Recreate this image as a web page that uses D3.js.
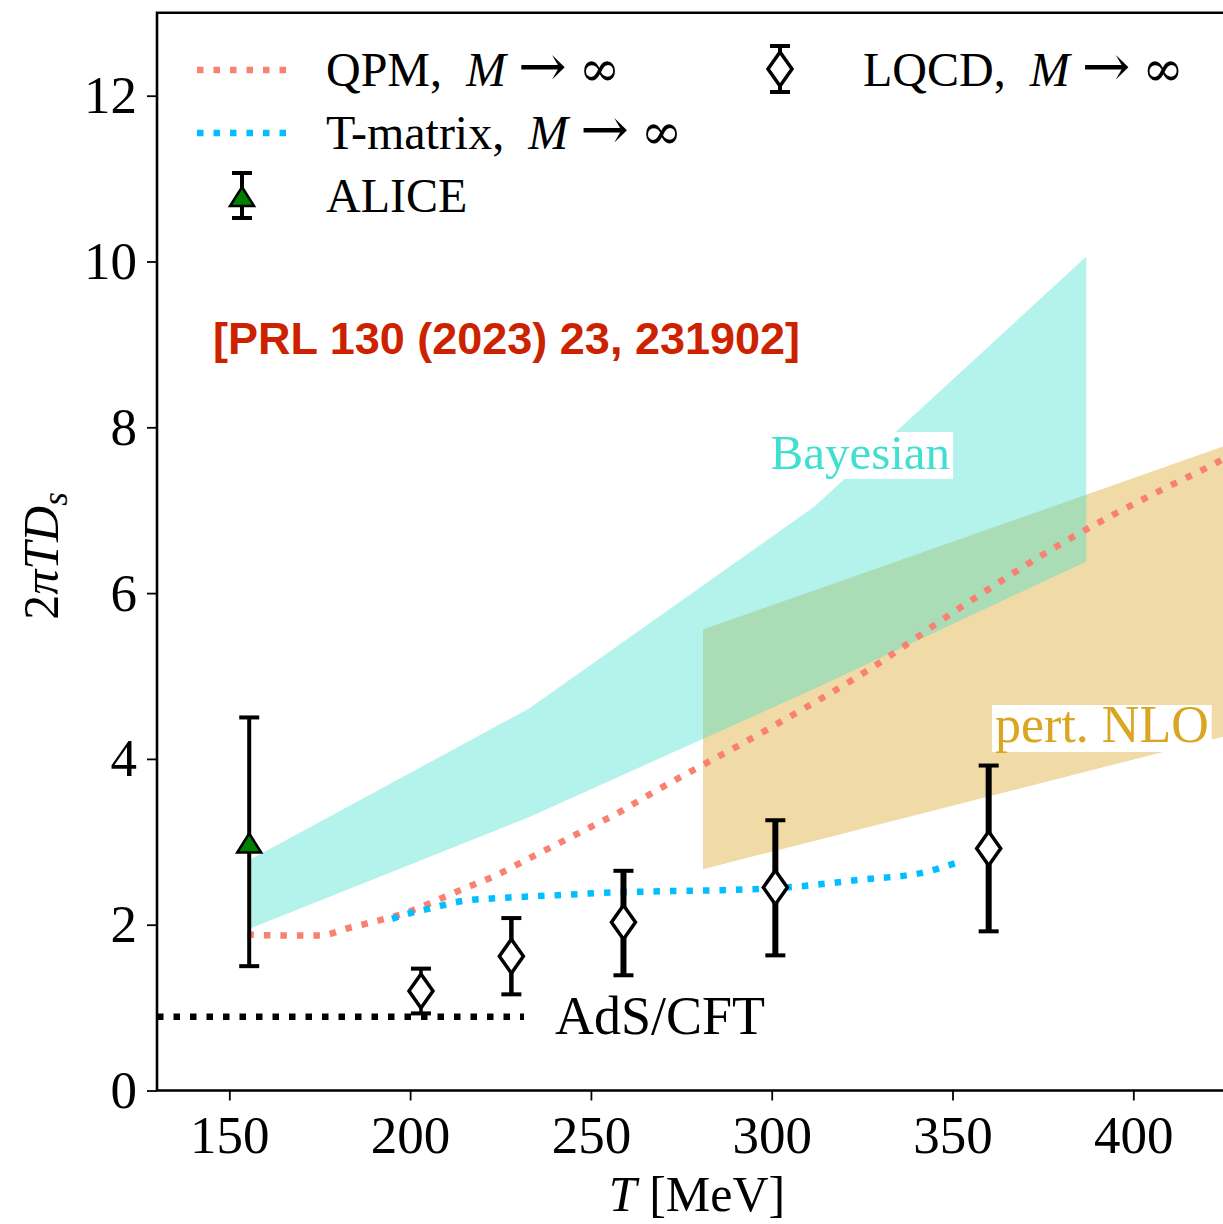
<!DOCTYPE html>
<html lang="en">
<head>
<meta charset="UTF-8">
<title>2piTDs vs T</title>
<script src="https://cdn.jsdelivr.net/npm/d3@7"></script>
<style>
  body { margin: 0; background: #fff; }
  text { font-family: "Liberation Serif", "DejaVu Serif", serif; fill: #000; }
</style>
</head>
<body>
<script>
// values
const xTicks = [150, 200, 250, 300, 350, 400];
const yTicks = [0, 2, 4, 6, 8, 10, 12];

// QPM, M -> inf
const qpmT = [155, 165, 175, 183, 193, 198, 206, 214, 224, 232, 241, 250, 258, 265, 299, 327, 352, 381, 408, 422, 425];
const qpmD = [1.88, 1.87, 1.87, 1.96, 2.07, 2.13, 2.27, 2.42, 2.60, 2.78, 2.98, 3.18, 3.36, 3.54, 4.36, 5.08, 5.82, 6.62, 7.25, 7.55, 7.62];

// T-matrix, M -> inf
const tmT = [195, 200, 205, 215, 224, 233, 243, 256, 266, 301, 324, 343, 352];
const tmD = [2.07, 2.14, 2.19, 2.29, 2.32, 2.34, 2.36, 2.39, 2.40, 2.44, 2.54, 2.64, 2.76];

// Bayesian band
const bayT = [155.5, 233, 312, 387];
const bayLo = [1.95, 3.30, 4.85, 6.38];
const bayHi = [2.78, 4.61, 7.05, 10.06];

// pert. NLO band
const nloT = [281, 425];
const nloLo = [2.67, 4.27];
const nloHi = [5.56, 7.77];

// AdS/CFT
const adsT = [130, 231.5];
const adsD = 0.89;

// ALICE
const aliceT = [155.5];
const aliceD = [2.98];
const aliceLo = [1.50];
const aliceHi = [4.50];

// LQCD, M -> inf
const lqcdT = [203, 228, 259, 301, 360];
const lqcdD = [1.20, 1.62, 2.03, 2.45, 2.92];
const lqcdLo = [0.93, 1.16, 1.39, 1.63, 1.92];
const lqcdHi = [1.47, 2.08, 2.65, 3.26, 3.92];
const lqcdBarW = [3.5, 4.5, 6, 6, 6];

const W = 1223, H = 1224;
const x = d3.scaleLinear().domain([130, 430]).range([157, 1241.8]);
const y = d3.scaleLinear().domain([0, 13]).range([1090.5, 12.8]);

const svg = d3.select('body').append('svg').attr('width', W).attr('height', H);

svg.append('clipPath').attr('id', 'plot')
  .append('rect').attr('x', x(130)).attr('y', y(13))
  .attr('width', x(430) - x(130)).attr('height', y(0) - y(13));

const plot = svg.append('g').attr('clip-path', 'url(#plot)');

const area = d3.area().x(d => x(d[0])).y0(d => y(d[1])).y1(d => y(d[2]));
const line = d3.line().x(d => x(d[0])).y(d => y(d[1]));

// bands (NLO first, Bayesian on top)
plot.append('path').attr('d', area(d3.zip(nloT, nloLo, nloHi)))
  .attr('fill', '#daa520').attr('fill-opacity', 0.4);
plot.append('path').attr('d', area(d3.zip(bayT, bayLo, bayHi)))
  .attr('fill', '#40e0d0').attr('fill-opacity', 0.4);

// AdS/CFT
plot.append('path').attr('d', line(adsT.map(t => [t, adsD])))
  .attr('fill', 'none').attr('stroke', '#000').attr('stroke-width', 6.5).attr('stroke-dasharray', '6.5 10');

// model curves
const smooth = d3.line().curve(d3.curveMonotoneX).x(d => x(d[0])).y(d => y(d[1]));
plot.append('path').attr('d', smooth(d3.zip(qpmT, qpmD)))
  .attr('fill', 'none').attr('stroke', '#fa8072').attr('stroke-width', 6.5).attr('stroke-dasharray', '6.5 10');
plot.append('path').attr('d', smooth(d3.zip(tmT, tmD)))
  .attr('fill', 'none').attr('stroke', '#00bfff').attr('stroke-width', 6.5).attr('stroke-dasharray', '6.5 10');

// text boxes on the bands
function boxLabel(cx, baseline, txt, color, size) {
  const g = plot.append('g');
  const t = g.append('text').attr('x', cx).attr('y', baseline).attr('text-anchor', 'middle')
    .attr('font-size', size).style('fill', color).text(txt);
  const b = t.node().getBBox();
  g.insert('rect', 'text').attr('x', b.x - 3).attr('y', baseline - 37)
    .attr('width', b.width + 6).attr('height', 47).attr('fill', '#fff');
}
boxLabel(x(324.5), 469, 'Bayesian', '#40e0d0', 49);
boxLabel(x(391.3), 742, 'pert. NLO', '#daa520', 52);

svg.append('text').attr('x', 555).attr('y', 1034).attr('font-size', 54).text('AdS/CFT');

svg.append('text').attr('x', 213).attr('y', 354).attr('font-size', 45)
  .style('font-family', '"Liberation Sans", Arial, sans-serif').style('font-weight', 'bold')
  .style('fill', '#cc2200').text('[PRL 130 (2023) 23, 231902]');

// error bar helpers
function errBar(g, cx, yLo, yHi, w) {
  g.append('line').attr('x1', cx).attr('x2', cx).attr('y1', yLo).attr('y2', yHi)
    .attr('stroke', '#000').attr('stroke-width', w);
  [yLo, yHi].forEach(v => g.append('line').attr('x1', cx - 10).attr('x2', cx + 10)
    .attr('y1', v).attr('y2', v).attr('stroke', '#000').attr('stroke-width', 4));
}
function diamond(g, cx, cy) {
  g.append('path').attr('d', `M${cx},${cy - 17}L${cx + 12},${cy}L${cx},${cy + 17}L${cx - 12},${cy}Z`)
    .attr('fill', '#fff').attr('stroke', '#000').attr('stroke-width', 3.5).attr('stroke-linejoin', 'miter');
}
function triangle(g, cx, cy) {
  g.append('path').attr('d', `M${cx},${cy - 10}L${cx + 12},${cy + 9}L${cx - 12},${cy + 9}Z`)
    .attr('fill', '#008000').attr('stroke', '#000').attr('stroke-width', 2.5).attr('stroke-linejoin', 'miter');
}

const marks = svg.append('g');
lqcdT.forEach((t, i) => {
  errBar(marks, x(t), y(lqcdLo[i]), y(lqcdHi[i]), lqcdBarW[i]);
  diamond(marks, x(t), y(lqcdD[i]));
});
aliceT.forEach((t, i) => {
  errBar(marks, x(t), y(aliceLo[i]), y(aliceHi[i]), 4);
  triangle(marks, x(t), y(aliceD[i]));
});

// axes
const ax = svg.append('g');
const xAxis = ax.append('g').attr('transform', `translate(0,${y(0)})`)
  .call(d3.axisBottom(x).tickValues(xTicks).tickSize(10).tickPadding(15));
const yAxis = ax.append('g').attr('transform', `translate(${x(130)},0)`)
  .call(d3.axisLeft(y).tickValues(yTicks).tickSize(10).tickPadding(10));
[xAxis, yAxis].forEach(a => {
  a.select('.domain').remove();
  a.selectAll('.tick line').attr('stroke', '#000').attr('stroke-width', 1.8);
  a.selectAll('.tick text').attr('font-size', 53).attr('font-family', '"Liberation Serif", serif').style('fill', '#000');
});

// frame (right spine lies outside the picture)
ax.append('path')
  .attr('d', `M${x(430)},${y(13)}H${x(130)}V${y(0)}H${x(430)}`)
  .attr('fill', 'none').attr('stroke', '#000').attr('stroke-width', 2.6);

// axis titles
const xl = svg.append('text').attr('x', 697).attr('y', 1211).attr('font-size', 50).attr('text-anchor', 'middle');
xl.append('tspan').attr('font-style', 'italic').text('T');
xl.append('tspan').text('\u00a0[MeV]');

const yl = svg.append('text').attr('transform', 'translate(58,556) rotate(-90)')
  .attr('font-size', 50).attr('text-anchor', 'middle');
yl.append('tspan').text('2');
yl.append('tspan').attr('font-style', 'italic').text('\u03c0TD');
yl.append('tspan').attr('font-style', 'italic').attr('font-size', 35).attr('dy', 9).text('s');

// legend
const leg = svg.append('g');
function legText(tx, ty, name) {
  const t = leg.append('text').attr('x', tx).attr('y', ty).attr('font-size', 48);
  t.append('tspan').text(name);
  if (name !== 'ALICE') {
    t.append('tspan').text(',\u00a0\u00a0');
    t.append('tspan').attr('font-style', 'italic').text('M');
    t.append('tspan').text('\u00a0');
    t.append('tspan').style('font-family', '"DejaVu Serif", serif').attr('font-size', 58).text('\u2192');
    t.append('tspan').text('\u00a0');
    t.append('tspan').style('font-family', '"DejaVu Serif", serif').attr('font-size', 50).text('\u221e');
  }
}
leg.append('line').attr('x1', 197).attr('x2', 290).attr('y1', 70).attr('y2', 70)
  .attr('stroke', '#fa8072').attr('stroke-width', 6.5).attr('stroke-dasharray', '6.5 10');
leg.append('line').attr('x1', 197).attr('x2', 290).attr('y1', 133).attr('y2', 133)
  .attr('stroke', '#00bfff').attr('stroke-width', 6.5).attr('stroke-dasharray', '6.5 10');
errBar(leg, 242, 173, 218, 4);
triangle(leg, 242, 197);
errBar(leg, 780, 46, 92, 4);
diamond(leg, 780, 69);

legText(326, 86, 'QPM');
legText(326, 149, 'T-matrix');
legText(326, 212, 'ALICE');
legText(863, 86, 'LQCD');
</script>
</body>
</html>
